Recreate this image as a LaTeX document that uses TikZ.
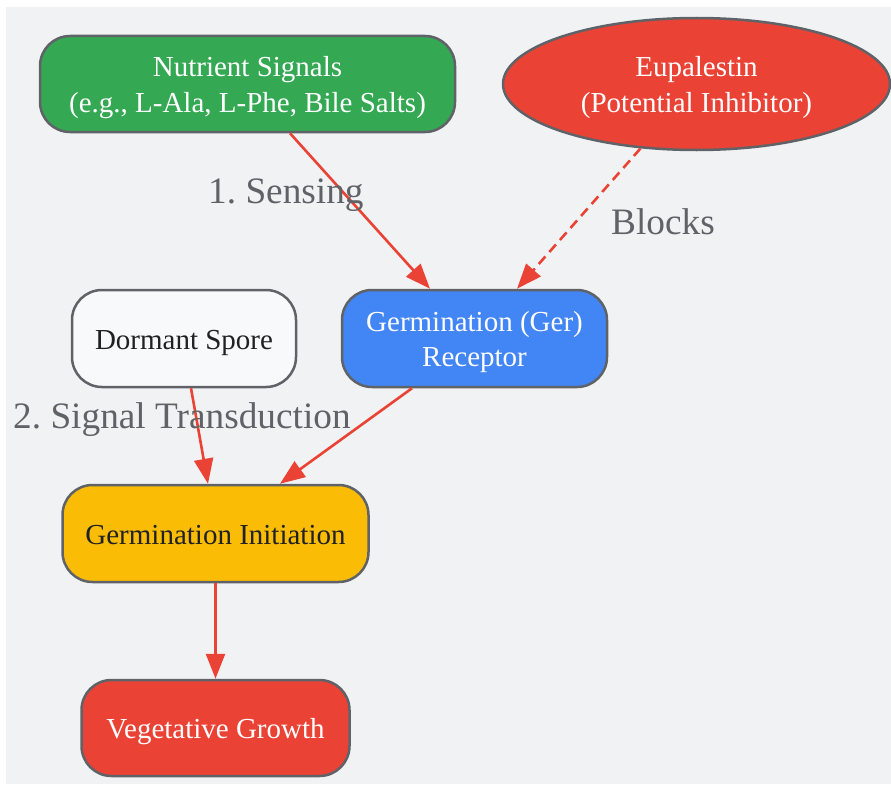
\documentclass[tikz,border=0pt]{standalone}
\usepackage{fontspec}
\setmainfont{Liberation Serif}
\usetikzlibrary{arrows.meta,shapes.geometric}
\frenchspacing
\definecolor{bggray}{HTML}{F1F2F4}
\definecolor{strokegray}{HTML}{5F6368}
\definecolor{ggreen}{HTML}{34A853}
\definecolor{gred}{HTML}{EA4335}
\definecolor{gblue}{HTML}{4285F4}
\definecolor{gyellow}{HTML}{FBBC05}
\definecolor{nodewhite}{HTML}{F8F9FA}
\definecolor{darktext}{HTML}{202124}
\definecolor{labelgray}{HTML}{5F6368}
\newcommand{\nodetxt}[1]{\raisebox{-3.5pt}[\height][\depth]{\begin{tabular}{@{}c@{}}#1\end{tabular}}}
\tikzset{
  x=1pt, y=-1pt,
  box/.style={draw=strokegray, line width=2.5pt, rounded corners=30pt, inner sep=0pt,
    font=\fontsize{29}{35}\selectfont},
  oval/.style={ellipse, draw=strokegray, line width=2.5pt, inner sep=0pt,
    font=\fontsize{29}{35}\selectfont},
  conn/.style={draw=gred, line width=2.6pt, -{Triangle[length=25pt,width=19pt]}},
  lbl/.style={text=labelgray, font=\fontsize{37.3}{40}\selectfont, inner sep=0pt, anchor=base west},
}
\begin{document}
\begin{tikzpicture}
\useasboundingbox (0,0) rectangle (891,784);
\fill[bggray] (6,7.5) rectangle (891,784);

\node[box, fill=ggreen, text=white, minimum width=415pt, minimum height=96pt]
  (nut) at (247.5,84) {\nodetxt{Nutrient Signals\\(e.g., L-Ala, L-Phe, Bile Salts)}};
\node[oval, fill=gred, text=white, minimum width=387pt, minimum height=132pt]
  (eup) at (696.5,84) {\nodetxt{Eupalestin\\(Potential Inhibitor)}};
\node[box, fill=gblue, text=white, minimum width=265pt, minimum height=97pt]
  (ger) at (474.5,338.5) {\nodetxt{Germination (Ger)\\Receptor}};
\node[box, fill=nodewhite, text=darktext, minimum width=224pt, minimum height=97pt]
  (dor) at (184,338.5) {\nodetxt{Dormant Spore}};
\node[box, fill=gyellow, text=darktext, minimum width=306pt, minimum height=97pt]
  (ini) at (215.5,533.5) {\nodetxt{Germination Initiation}};
\node[box, fill=gred, text=white, minimum width=268pt, minimum height=96pt]
  (veg) at (215.5,728) {\nodetxt{Vegetative Growth}};

\draw[conn] ([xshift=42.5pt]nut.south) -- ([xshift=-44.5pt]ger.north);
\draw[conn, dash pattern=on 10pt off 6pt] (eup.229) -- ([xshift=42.5pt]ger.north);
\draw[conn] ([xshift=7pt]dor.south) -- ([xshift=-7.5pt]ini.north);
\draw[conn] ([xshift=-62.5pt]ger.south) -- ([xshift=64.5pt]ini.north);
\draw[conn] (ini.south) -- (veg.north);

\node[lbl] (l1) at (208,203) {1. Sensing};
\node[lbl] (l2) at (611,234) {Blocks};
\node[lbl] (l3) at (13,428) {2. Signal Transduction};
\end{tikzpicture}
\end{document}
